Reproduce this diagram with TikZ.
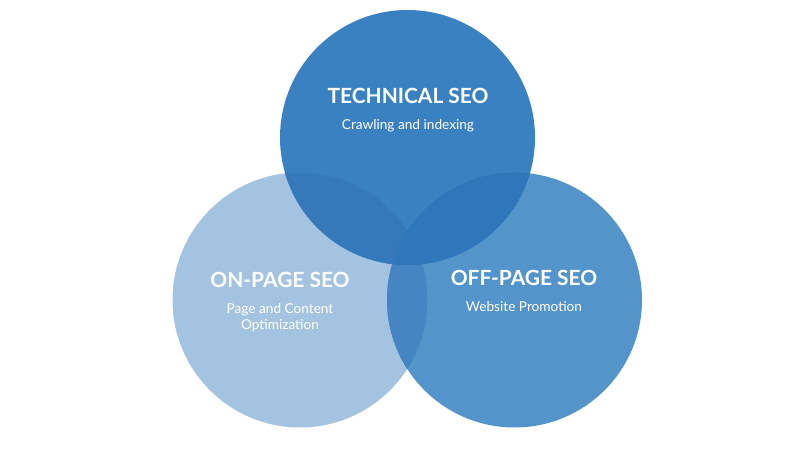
\documentclass[tikz,border=0pt]{standalone}
\usepackage{fontspec}
\setmainfont{Lato}
\usetikzlibrary{positioning}
\definecolor{lc}{HTML}{A3C3E1}
\definecolor{rc}{HTML}{5395CB}
\definecolor{tc}{HTML}{3A81C1}
\definecolor{tlc}{HTML}{3679BA}
\definecolor{trc}{HTML}{2F77B9}
\definecolor{lrc}{HTML}{4585C2}
\tikzset{head/.style={text=white,font=\fontsize{21}{24}\selectfont\bfseries,inner sep=0pt},
 sub/.style={text=white,font=\fontsize{13.7}{16}\selectfont,align=center,inner sep=0pt}}
\begin{document}
\begin{tikzpicture}[x=1bp,y=-1bp]
\useasboundingbox (0,0) rectangle (800,450);
\coordinate (L) at (300,300);\coordinate (R) at (514.5,300);\coordinate (T) at (407.5,137.5);
\fill[lc] (L) circle[radius=127.5];\fill[rc] (R) circle[radius=127.5];
\fill[tc] (T) circle[radius=127.5];
\begin{scope}\clip (L) circle[radius=127.5];\fill[lrc] (R) circle[radius=127.5];\fill[tlc] (T) circle[radius=127.5];\end{scope}
\begin{scope}\clip (R) circle[radius=127.5];\fill[trc] (T) circle[radius=127.5];\end{scope}
\node[head] (th) at (408,96) {TECHNICAL SEO};
\node[sub] (ts) at (408,126) {Crawling and indexing};
\node[head] (lh) at (280,280) {ON-PAGE SEO};
\node[sub] (ls) at (280,318) {Page and Content\\Optimization};
\node[head] (rh) at (524,278) {OFF-PAGE SEO};
\node[sub] (rs) at (524,307) {Website Promotion};
\end{tikzpicture}
\end{document}
